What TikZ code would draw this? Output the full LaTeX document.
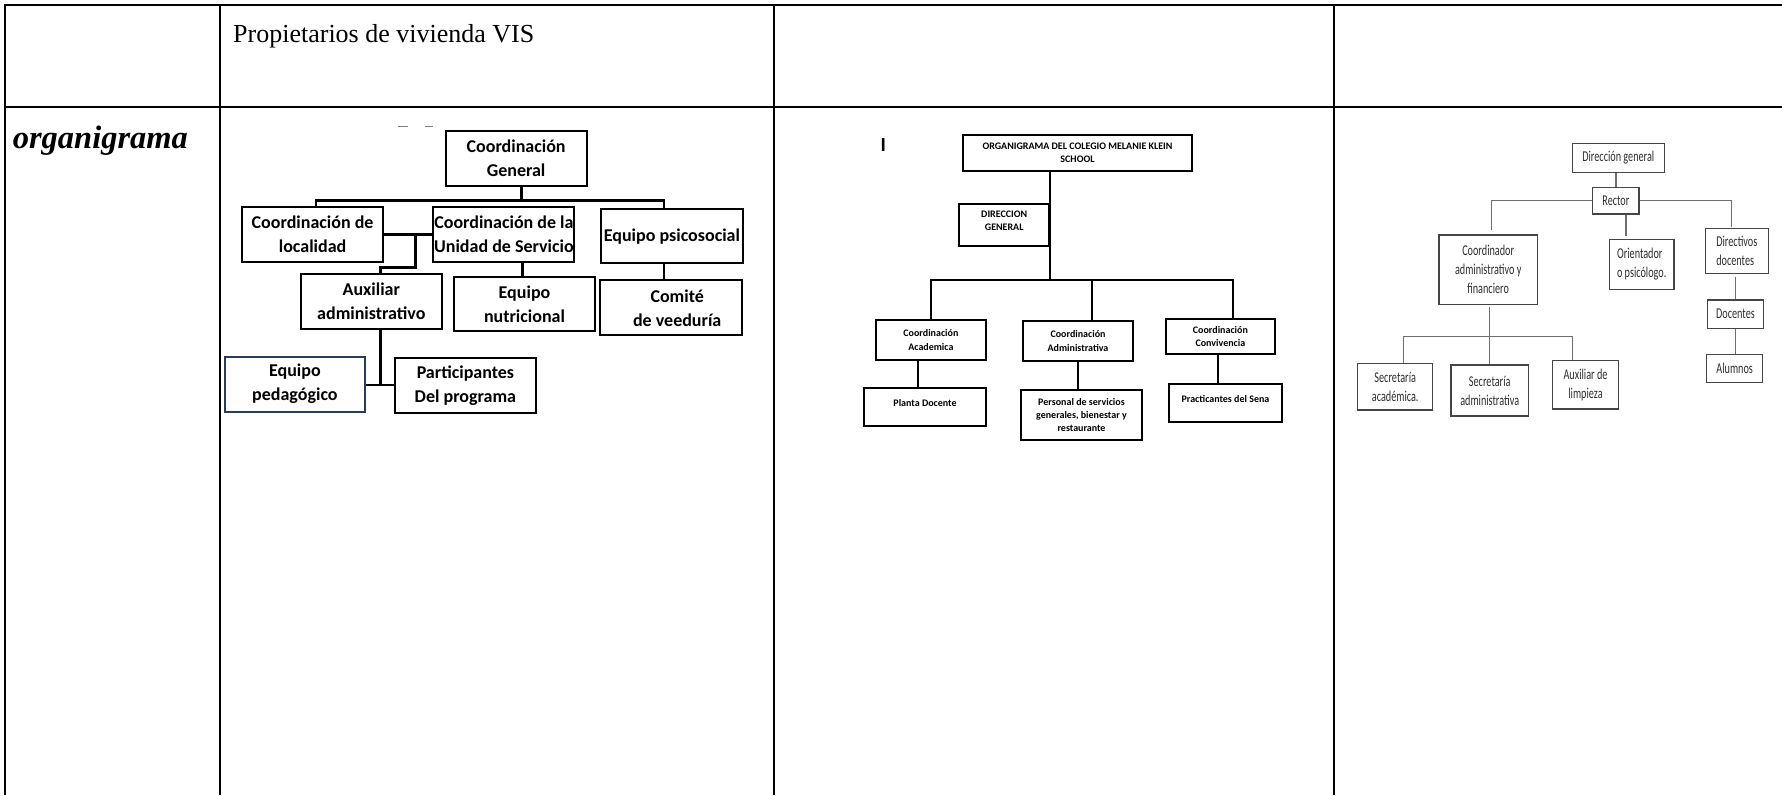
\documentclass[tikz,border=0pt]{standalone}
\usepackage{fontspec}
\setmainfont{Liberation Serif}
\newfontfamily\calfont{Carlito}
\usepackage{graphicx}
\newcommand{\cz}[1]{\scalebox{0.68}[1]{#1}}
\newcommand{\liftup}[2]{\raisebox{#1}[\height][\depth]{#2}}
\definecolor{navyb}{HTML}{2B3A55}
\definecolor{boxC}{HTML}{454545}
\definecolor{lineC}{HTML}{6E6E6E}
\definecolor{textC}{HTML}{2E2E2E}
\begin{document}
\begin{tikzpicture}[x=1pt,y=-1pt,
  tabline/.style={line width=2.2pt},
  bA/.style={draw=black, line width=2pt, inner sep=0pt, align=center, font=\calfont\bfseries\fontsize{18}{24}\selectfont},
  lA/.style={line width=2.7pt},
  bB/.style={draw=black, line width=1.8pt, inner sep=0pt, align=center, font=\calfont\bfseries\fontsize{10}{13.3}\selectfont},
  lB/.style={line width=2pt},
  bC/.style={draw=boxC, line width=1.4pt, inner sep=0pt, align=center, text=textC, font=\calfont\fontsize{15}{19}\selectfont},
  lC/.style={draw=lineC, line width=1.3pt}
]
\useasboundingbox (0,0) rectangle (1782,795);

% ---------- table grid ----------
\draw[tabline] (4,5) -- (1782,5);
\draw[tabline] (4,107) -- (1782,107);
\draw[tabline] (5,4) -- (5,795);
\draw[tabline] (220,4) -- (220,795);
\draw[tabline] (774,4) -- (774,795);
\draw[tabline] (1334,4) -- (1334,795);

\node[anchor=base west, inner sep=0pt, font=\fontsize{26}{31}\selectfont] (hdr) at (233,42) {Propietarios de vivienda VIS};
\node[anchor=base west, inner sep=0pt, font=\bfseries\itshape\fontsize{32.5}{38}\selectfont] (org) at (12.6,148.3) {organigrama};

% ---------- chart 1 ----------
\draw[gray, line width=1.3pt] (398,126.5) -- (407.5,126.5);
\draw[gray, line width=1.3pt] (425,126.5) -- (432.5,126.5);

\node[bA, minimum width=140.8, minimum height=54.7] (cg) at (516.1,158.4) {Coordinación\\General};
\node[bA, minimum width=140.9, minimum height=54.7] (loc) at (312.6,234.7) {Coordinación de\\localidad};
\node[bA, minimum width=140.9, minimum height=54.7] (cus) at (503.9,234.7) {Coordinación de la\\Unidad de Servicio};
\node[bA, minimum width=141.7, minimum height=54] (psi) at (671.9,236.3) {Equipo psicosocial};
\node[bA, minimum width=141.3, minimum height=54.7] (aux) at (371.3,301.3) {Auxiliar\\administrativo};
\node[bA, minimum width=141, minimum height=54.6] (nut) at (524.5,304) {Equipo\\nutricional};
\node[bA, minimum width=141.7, minimum height=55] (com) at (671.2,307.8) {\hspace*{12pt}Comité\\\hspace*{12pt}de veeduría};
\node[bA, draw=navyb, minimum width=140.8, minimum height=55] (ped) at (294.9,384.2) {Equipo\\pedagógico};
\node[bA, minimum width=140.4, minimum height=55] (par) at (465.4,385.2) {Participantes\\Del programa};

\coordinate (b1L) at (316,200.5);
\coordinate (b1M) at (521.5,200.5);
\coordinate (b1R) at (664,200.5);
\coordinate (j1) at (415.5,234.7);
\coordinate (j2) at (380.6,267.7);
\coordinate (j3) at (380.6,385);

\draw[lA] ([xshift=5.4]cg.south) -- (b1M);
\draw[lA] (b1L |- loc.north) -- (b1L) -- (b1R) -- (b1R |- psi.north);
\draw[lA] (loc.east) -- (cus.west);
\draw[lA] (j1) |- (j2) -- (j2 |- aux.north);
\draw[lA] ([xshift=-2.3]nut.north |- cus.south) -- ([xshift=-2.3]nut.north);
\draw[lA] (b1R |- psi.south) -- (b1R |- com.north);
\draw[lA] (j3 |- aux.south) -- (j3);
\draw[lA] (ped.east |- j3) -- (par.west |- j3);

% ---------- chart 2 ----------
\node[font=\calfont\bfseries\fontsize{20}{20}\selectfont, inner sep=0pt] (artI) at (883.3,145) {I};
\node[bB, minimum width=228.4, minimum height=35.7] (t2) at (1077.5,152.8) {ORGANIGRAMA DEL COLEGIO MELANIE KLEIN\\SCHOOL};
\node[bB, minimum width=90.3, minimum height=41.4] (dg2) at (1004.2,225) {\liftup{4.5pt}{DIRECCION}\\\liftup{4.5pt}{GENERAL}};
\node[bB, minimum width=109.7, minimum height=40] (acad) at (930.9,340) {Coordinación\\Academica};
\node[bB, minimum width=109.4, minimum height=39.7] (adm) at (1078,340.9) {Coordinación\\Administrativa};
\node[bB, minimum width=109.3, minimum height=35.3] (conv) at (1220.4,336.7) {Coordinación\\Convivencia};
\node[bB, minimum width=121.4, minimum height=38.3] (pd) at (925,406.9) {\liftup{3.6pt}{Planta Docente}};
\node[bB, minimum width=121, minimum height=50] (ps) at (1081.5,415) {Personal de servicios\\generales, bienestar y\\restaurante};
\node[bB, minimum width=112.4, minimum height=37.7] (pr) at (1225.5,402.9) {\liftup{4.2pt}{Practicantes del Sena}};

\coordinate (b2L) at (931,280);
\coordinate (b2T) at (1050,280);
\coordinate (b2M) at (1091.7,280);
\coordinate (b2R) at (1233.3,280);

\draw[lB] (b2T |- t2.south) -- (b2T);
\draw[lB] (b2L |- acad.north) -- (b2L) -- (b2R) -- (b2R |- conv.north);
\draw[lB] (b2M) -- (b2M |- adm.north);
\draw[lB] ([xshift=-13.2]acad.south) -- ([xshift=-13.2]acad.south |- pd.north);
\draw[lB] (adm.south) -- (adm.south |- ps.north);
\draw[lB] ([xshift=-2.7]conv.south) -- ([xshift=-2.7]conv.south |- pr.north);

% ---------- chart 3 ----------
\node[bC, minimum width=92, minimum height=29.4] (dg3) at (1618.3,158) {\cz{Dirección general}};
\node[bC, minimum width=46.3, minimum height=26.7] (rec) at (1615.9,200.7) {\cz{Rector}};
\node[bC, minimum width=98.3, minimum height=69.3] (coa) at (1488.2,269.7) {\cz{Coordinador}\\\cz{administrativo y}\\\cz{financiero}};
\node[bC, align=left, minimum width=64.7, minimum height=50] (ori) at (1641.7,264.3) {\cz{Orientador}\\\cz{o psicólogo.}};
\node[bC, align=left, minimum width=63, minimum height=45] (dir) at (1736.8,250.8) {\cz{Directivos}\\\cz{docentes}};
\node[bC, minimum width=56.4, minimum height=28.3] (doc) at (1735.5,314.2) {\cz{Docentes}};
\node[bC, minimum width=56, minimum height=28.4] (alu) at (1734.7,368.5) {\cz{Alumnos}};
\node[bC, minimum width=75, minimum height=46.7] (sa) at (1395.2,386.7) {\cz{Secretaría}\\\cz{académica.}};
\node[bC, minimum width=77.3, minimum height=51] (sad) at (1489.7,390.5) {\cz{Secretaría}\\\cz{administrativa}};
\node[bC, minimum width=65.6, minimum height=48.3] (al) at (1585.5,384.8) {\cz{Auxiliar de}\\\cz{limpieza}};

\coordinate (b3L) at (1403.3,336.7);
\coordinate (b3R) at (1572.3,336.7);

\draw[lC] (dg3.south -| rec.north) -- (rec.north);
\draw[lC, shorten >=4.3pt] (rec.west) -| ([xshift=3.5]coa.north);
\draw[lC, shorten >=1pt] (rec.east) -| ([xshift=-5]dir.north);
\draw[lC, shorten >=2.6pt] ([xshift=10]rec.south) -- ([xshift=10]rec.south |- ori.north);
\draw[lC, shorten <=3.4pt] (doc.north |- dir.south) -- (doc.north);
\draw[lC] (doc.south) -- (doc.south |- alu.north);
\draw[lC, shorten <=2.4pt] ([xshift=1.1]coa.south) -- ([xshift=1.1]coa.south |- sad.north);
\draw[lC] (b3L |- sa.north) -- (b3L) -- (b3R) -- (b3R |- al.north);
\end{tikzpicture}
\end{document}
